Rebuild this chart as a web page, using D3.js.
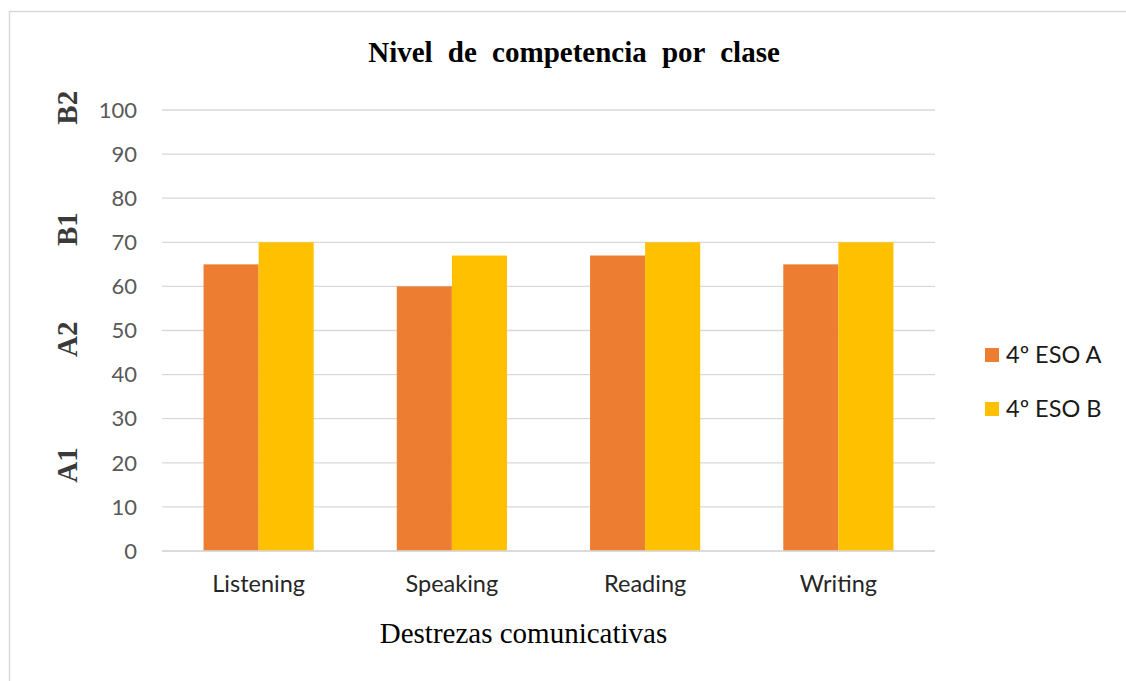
<!DOCTYPE html>
<html><head><meta charset="utf-8">
<script src="https://cdn.jsdelivr.net/npm/d3@7"></script>
<style>body{margin:0;background:#fff;}svg{display:block;}</style>
</head><body>
<svg id="c" width="1126" height="681"></svg>
<script>
const categories = ["Listening","Speaking","Reading","Writing"];
const seriesNames = ["4º ESO A","4º ESO B"];
const seriesA = [65,60,67,65];
const seriesB = [70,67,70,70];
const yTicks = [0,10,20,30,40,50,60,70,80,90,100];
const levelLabels = ["A1","A2","B1","B2"];
const levelValues = [19.5,48,73,100.5];
const colors = ["#ED7D31","#FFC000"];

const svg = d3.select("#c");
const m = {left:162,right:935,top:110,bottom:551};

svg.append("rect").attr("x",9.5).attr("y",11.5).attr("width",1130).attr("height",700)
  .attr("fill","#fff").attr("stroke","#d9d9d9").attr("stroke-width",1.5);

const x = d3.scaleBand().domain(categories).range([m.left,m.right]).paddingInner(0.43).paddingOuter(0.215);
const xs = d3.scaleBand().domain(seriesNames).range([0,x.bandwidth()]);
const y = d3.scaleLinear().domain([0,100]).range([m.bottom,m.top]);

// gridlines
svg.append("g").selectAll("line").data(yTicks).join("line")
  .attr("x1",m.left).attr("x2",m.right)
  .attr("y1",d=>y(d)).attr("y2",d=>y(d))
  .attr("stroke","#d9d9d9").attr("stroke-width",1.3);

// y axis labels
const yAxis = d3.axisLeft(y).tickValues(yTicks).tickSize(0).tickPadding(0);
const gy = svg.append("g").attr("transform",`translate(${m.left-25},0)`).call(yAxis);
gy.select(".domain").remove();
gy.selectAll("text").attr("font-family","Lato, 'Open Sans', sans-serif").attr("font-size",22).attr("fill","#595959").attr("dy","0.33em");

// bars
const data = categories.map((c,i)=>({c, vals:[seriesA[i],seriesB[i]]}));
const groups = svg.append("g").selectAll("g").data(data).join("g")
  .attr("transform",d=>`translate(${x(d.c)},0)`);
groups.selectAll("rect").data(d=>d.vals.map((v,j)=>({v,s:seriesNames[j],j})))
  .join("rect")
  .attr("x",d=>xs(d.s)).attr("width",xs.bandwidth())
  .attr("y",d=>y(d.v)).attr("height",d=>y(0)-y(d.v))
  .attr("fill",d=>colors[d.j]);

// baseline
svg.append("line").attr("x1",m.left).attr("x2",m.right).attr("y1",y(0)).attr("y2",y(0))
  .attr("stroke","#d9d9d9").attr("stroke-width",1.5);

// x axis labels
const xAxis = d3.axisBottom(x).tickSize(0).tickPadding(0);
const gx = svg.append("g").attr("transform",`translate(0,${m.bottom})`).call(xAxis);
gx.select(".domain").remove();
gx.selectAll("text").attr("font-family","Lato, 'Open Sans', sans-serif").attr("font-size",23.5).attr("fill","#262626").attr("y",41).attr("dy",0);

// level labels
svg.append("g").selectAll("text").data(levelLabels).join("text")
  .attr("transform",(d,i)=>`translate(77,${y(levelValues[i])}) rotate(-90)`)
  .attr("text-anchor","middle")
  .attr("font-family","'Liberation Serif', serif").attr("font-weight","bold")
  .attr("font-size",29).attr("fill","#3a3a3a").text(d=>d);

// title
svg.append("text").attr("x",574).attr("y",62).attr("text-anchor","middle")
  .attr("font-family","'Liberation Serif', serif").attr("font-weight","bold")
  .attr("font-size",29).attr("word-spacing",8).attr("fill","#000").text("Nivel de competencia por clase");

// x title
svg.append("text").attr("x",523.5).attr("y",643).attr("text-anchor","middle")
  .attr("font-family","'Liberation Serif', serif")
  .attr("font-size",29).attr("fill","#000").text("Destrezas comunicativas");

// legend
const lg = svg.append("g").selectAll("g").data(seriesNames).join("g")
  .attr("transform",(d,i)=>`translate(985,${355+i*54})`);
lg.append("rect").attr("x",0).attr("y",-7).attr("width",14).attr("height",14).attr("fill",(d,i)=>colors[i]);
lg.append("text").attr("x",21).attr("y",7.5)
  .attr("font-family","Lato, 'Open Sans', sans-serif").attr("font-size",23.5).attr("fill","#1a1a1a").text(d=>d);
</script>
</body></html>
